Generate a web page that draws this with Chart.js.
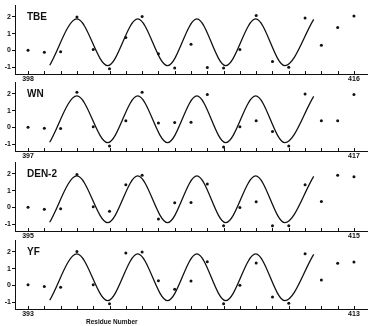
<!DOCTYPE html>
<html>
<head>
<meta charset="utf-8">
<script src="https://cdn.jsdelivr.net/npm/chart.js@4.4.0/dist/chart.umd.min.js"></script>
<style>
  body { margin: 0; background: #fff; width: 371px; height: 326px; overflow: hidden; position: relative; font-family: "Liberation Sans", Arial, sans-serif; }
  .panel { position: absolute; left: 0; width: 371px; height: 84px; }
  .name { position: absolute; left: 27px; font-weight: bold; font-size: 10px; color: #111; }
  #xtitle { position: absolute; left: 86px; top: 318px; font-weight: bold; font-size: 6.5px; color: #111; }
</style>
</head>
<body>
<div class="panel" style="top:0px"><canvas id="c0"></canvas></div>
<div class="panel" style="top:77px"><canvas id="c1"></canvas></div>
<div class="panel" style="top:157px"><canvas id="c2"></canvas></div>
<div class="panel" style="top:235px"><canvas id="c3"></canvas></div>
<div class="name" style="top:11px">TBE</div>
<div class="name" style="top:88px">WN</div>
<div class="name" style="top:168px">DEN-2</div>
<div class="name" style="top:246px">YF</div>
<div id="xtitle">Residue Number</div>
<script>
// panel names and first / last residue labels
const names = ['TBE', 'WN', 'DEN-2', 'YF'];
const tickLabels = [['398', '416'], ['397', '417'], ['395', '415'], ['393', '413']];

// hydrophobicity values, one per residue position (21 positions)
const tbeValues = [0.02, -0.1, -0.08, 2.0, 0.06, -1.08, 0.78, 2.03, -0.2, -1.04, 0.38, -1.02, -1.04, 0.06, 2.08, -0.66, -1.0, 1.94, 0.32, 1.37, 2.05];
const wnValues = [0.02, -0.04, -0.06, 2.1, 0.04, -1.1, 0.4, 2.1, 0.27, 0.3, 0.31, 1.96, -1.16, 0.04, 0.4, -0.24, -1.1, 2.0, 0.4, 0.4, 1.96];
const denValues = [0.02, -0.1, -0.07, 1.96, 0.04, -0.22, 1.36, 1.92, -0.69, 0.28, 0.3, 1.4, -1.08, 0.0, 0.34, -1.08, -1.08, 1.35, 0.36, 1.92, 1.83];
const yfValues = [0.04, -0.06, -0.1, 2.02, 0.04, -1.09, 1.93, 1.99, 0.29, -0.23, 0.27, 1.41, -1.09, 0.02, 1.34, -0.69, -1.05, 1.89, 0.33, 1.32, 1.4];
const panelValues = [tbeValues, wnValues, denValues, yfValues];

// fitted helix curve, read as its turning points (position index, value)
const curveX = [1.33, 3.0, 4.89, 6.73, 8.56, 10.36, 12.13, 13.97, 15.76, 17.53];
const curveY = [-0.88, 1.88, -0.9, 1.88, -0.9, 1.88, -0.9, 1.88, -0.9, 1.86];

const ink = '#111';

// small tick marks pointing up from the x axis, one per residue
const innerTicks = {
  id: 'innerTicks',
  afterDraw(chart) {
    const xs = chart.scales.x;
    const bottom = chart.chartArea.bottom;
    const n = chart.data.datasets[0].data.length;
    const ctx = chart.ctx;
    ctx.save();
    ctx.strokeStyle = ink;
    ctx.lineWidth = 1;
    for (let i = 0; i < n; i++) {
      const px = Math.round(xs.getPixelForValue(i)) + 0.5;
      ctx.beginPath();
      ctx.moveTo(px, bottom);
      ctx.lineTo(px, bottom - 3);
      ctx.stroke();
    }
    ctx.restore();
  }
};

function makePanel(k) {
  const values = panelValues[k];
  const labels = tickLabels[k];
  const last = values.length - 1;
  const ctx = document.getElementById('c' + k);

  new Chart(ctx, {
    type: 'scatter',
    data: {
      datasets: [
        {
          label: names[k],
          data: values.map((v, i) => ({ x: i, y: v })),
          pointRadius: 1.5,
          pointBackgroundColor: ink,
          pointBorderWidth: 0,
          showLine: false
        },
        {
          label: 'fit',
          data: curveX.map((x, i) => ({ x: x, y: curveY[i] })),
          showLine: true,
          borderColor: ink,
          borderWidth: 1.3,
          pointRadius: 0,
          cubicInterpolationMode: 'monotone'
        }
      ]
    },
    options: {
      responsive: false,
      animation: false,
      devicePixelRatio: 1,
      layout: { padding: { top: 2, right: 3, left: 0, bottom: 0 } },
      plugins: { legend: { display: false }, tooltip: { enabled: false } },
      scales: {
        x: {
          type: 'linear',
          min: -0.8,
          max: 20.8,
          afterBuildTicks: s => { s.ticks = [{ value: 0 }, { value: last }]; },
          afterFit: s => { s.height = 10; },
          ticks: {
            autoSkip: false,
            maxRotation: 0,
            padding: 1,
            color: ink,
            font: { family: 'Liberation Sans', size: 7, weight: 'bold' },
            callback: v => (v === 0 ? labels[0] : labels[1])
          },
          grid: { drawOnChartArea: false, drawTicks: false },
          border: { color: ink, width: 1 }
        },
        y: {
          min: -1.4,
          max: 2.7,
          afterFit: s => { s.width = 15; },
          ticks: {
            stepSize: 0.5,
            includeBounds: false,
            padding: 1,
            color: ink,
            font: { family: 'Liberation Sans', size: 7, weight: 'bold' },
            callback: v => (Number.isInteger(v) ? String(v) : '')
          },
          grid: { drawOnChartArea: false, drawTicks: true, tickLength: 3, color: ink },
          border: { color: ink, width: 1 }
        }
      }
    },
    plugins: [innerTicks]
  });
}

for (let k = 0; k < 4; k++) {
  const c = document.getElementById('c' + k);
  c.width = 371;
  c.height = 84;
  makePanel(k);
}
</script>
</body>
</html>
